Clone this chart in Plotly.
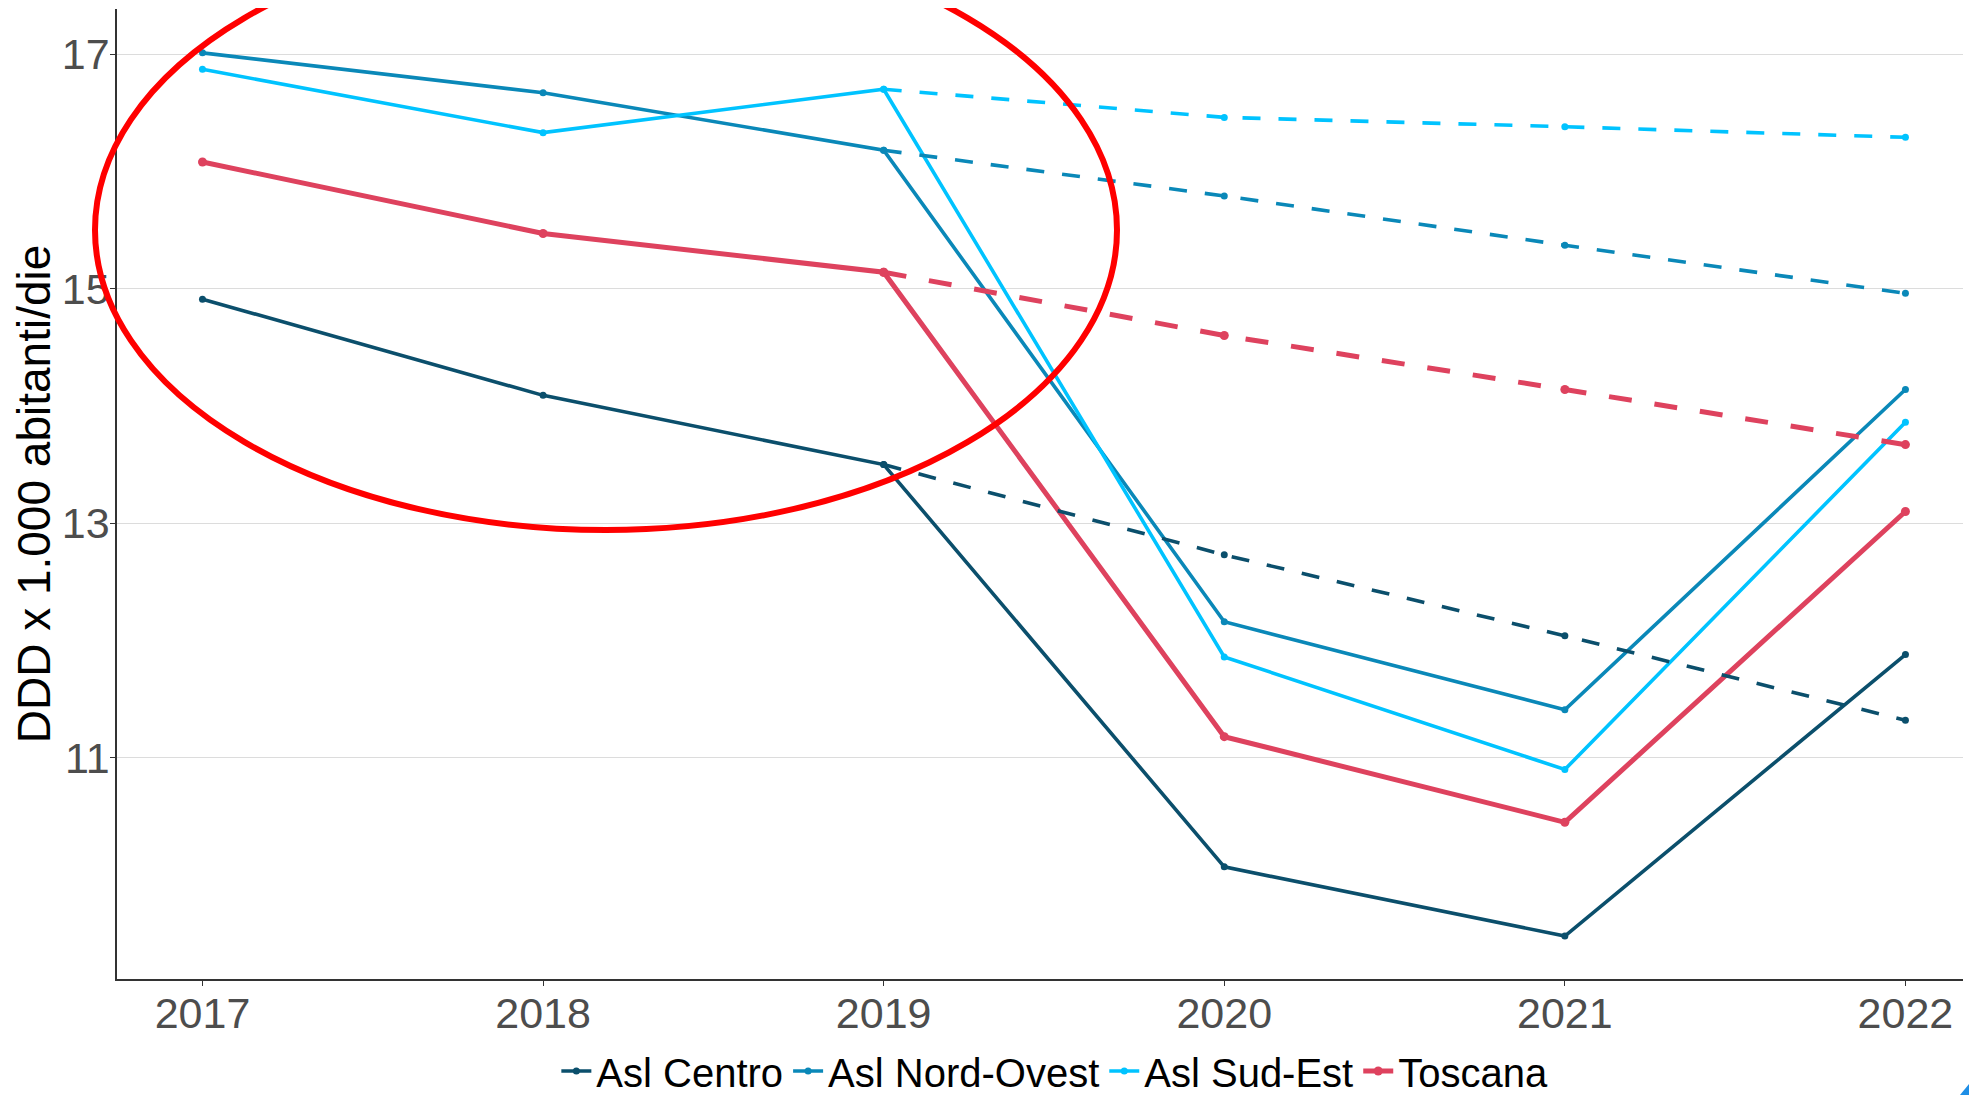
import plotly.graph_objects as go

# ---- data ----
years = [2017, 2018, 2019, 2020, 2021, 2022]
trend_years = [2019, 2020, 2021, 2022]

centro = [14.91, 14.09, 13.50, 10.07, 9.48, 11.88]
centro_trend = [13.50, 12.73, 12.04, 11.32]

nord_ovest = [17.01, 16.67, 16.18, 12.16, 11.41, 14.14]
nord_ovest_trend = [16.18, 15.79, 15.37, 14.96]

sud_est = [16.87, 16.33, 16.70, 11.86, 10.90, 13.86]
sud_est_trend = [16.70, 16.46, 16.38, 16.29]

toscana = [16.08, 15.47, 15.14, 11.18, 10.45, 13.10]
toscana_trend = [15.14, 14.60, 14.14, 13.67]

y_ticks = [11, 13, 15, 17]
y_title = "DDD x 1.000 abitanti/die"

series = [
    ("Asl Centro", centro, centro_trend, "#0b4f6c", 3.6, "18px,18px", 7),
    ("Asl Nord-Ovest", nord_ovest, nord_ovest_trend, "#0a88b8", 3.6, "18px,18px", 7),
    ("Asl Sud-Est", sud_est, sud_est_trend, "#00c3ff", 3.6, "18px,18px", 7),
    ("Toscana", toscana, toscana_trend, "#de425e", 5, "23px,23px", 9),
]

FONT = "Liberation Sans, Arial, sans-serif"

fig = go.Figure()
for name, vals, trend, color, lw, dash, ms in series:
    fig.add_trace(go.Scatter(
        x=years, y=vals, mode="lines+markers", name=name,
        line=dict(color=color, width=lw),
        marker=dict(color=color, size=ms),
    ))
for name, vals, trend, color, lw, dash, ms in series:
    fig.add_trace(go.Scatter(
        x=trend_years, y=trend, mode="lines+markers", name=name + " trend",
        showlegend=False,
        line=dict(color=color, width=lw, dash=dash),
        marker=dict(color=color, size=ms),
    ))

# page geometry (the browser body adds an 8px margin around the figure)
BODY = 8
PAGE_W, PAGE_H = 1977, 1095
PLOT_L, PLOT_R, PLOT_T, PLOT_B = 117, 1963, 9, 979
W, H = PAGE_W - BODY, PAGE_H - BODY
ML, MT = PLOT_L - BODY, PLOT_T - BODY
MR, MB = PAGE_W - PLOT_R, PAGE_H - PLOT_B
pw, ph = PLOT_R - PLOT_L, PLOT_B - PLOT_T


def px(x):
    return (x - PLOT_L) / pw


def py(y):
    return (PLOT_B - y) / ph


# red highlight ellipse
fig.add_shape(type="circle", xref="paper", yref="paper",
              x0=px(95), x1=px(1117), y0=py(530), y1=py(-70),
              line=dict(color="#ff0000", width=6), fillcolor="rgba(0,0,0,0)",
              layer="above")

# small blue corner mark (cropped logo)
fig.add_shape(type="path", xref="paper", yref="paper",
              path="M {} {} L {} {} L {} {} Z".format(px(1960), py(1095), px(1977), py(1074), px(1977), py(1095)),
              line=dict(width=0), fillcolor="#1e8ee6", layer="above")

fig.update_layout(
    width=W, height=H,
    margin=dict(l=ML, r=MR, t=MT, b=MB, autoexpand=False),
    paper_bgcolor="white", plot_bgcolor="white",
    font=dict(family=FONT, color="black"),
    showlegend=True,
    legend=dict(orientation="h", x=0.238, xanchor="left", y=py(1071), yanchor="middle",
                font=dict(size=40, color="black", family=FONT),
                bgcolor="rgba(0,0,0,0)", itemwidth=30, tracegroupgap=0),
    xaxis=dict(range=[2016.749, 2022.169], tickvals=years, ticktext=[str(y) for y in years],
               showgrid=False, zeroline=False, showline=True, linecolor="#333333", linewidth=1.5,
               ticks="outside", ticklen=5, tickwidth=1.2, tickcolor="#333333",
               ticklabelstandoff=-9,
               tickfont=dict(size=43, color="#4d4d4d", family=FONT)),
    yaxis=dict(range=[9.114, 17.384], tickvals=y_ticks,
               showgrid=True, gridcolor="#dcdcdc", gridwidth=1.4, zeroline=False,
               showline=True, linecolor="#333333", linewidth=1.5,
               ticks="outside", ticklen=5, tickwidth=1.2, tickcolor="#333333",
               ticklabelstandoff=-8,
               tickfont=dict(size=43, color="#4d4d4d", family=FONT),
               title=dict(text=y_title, font=dict(size=46, color="black", family=FONT), standoff=12)),
)

fig.write_html("out.html")
